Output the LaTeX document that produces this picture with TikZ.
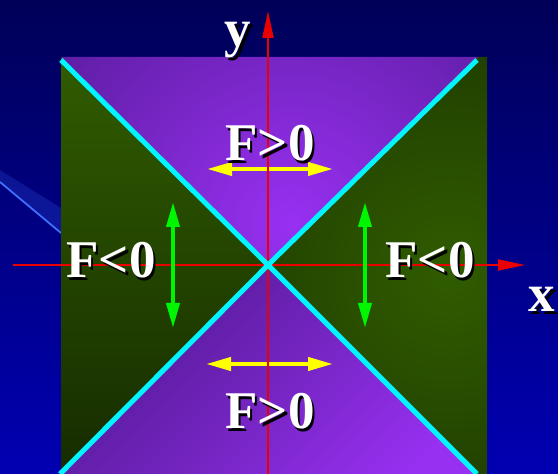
\documentclass[tikz,border=0pt]{standalone}
\usepackage{fontspec}
\setmainfont{Liberation Serif}
\usetikzlibrary{arrows.meta}
\definecolor{bgtop}{RGB}{0,0,88}
\definecolor{bgbot}{RGB}{0,0,178}
\definecolor{gl}{RGB}{48,92,0}
\definecolor{gd}{RGB}{22,44,0}
\definecolor{pl}{RGB}{152,48,242}
\definecolor{pd}{RGB}{76,24,138}
\definecolor{cyanl}{RGB}{0,245,255}
\definecolor{axred}{RGB}{235,0,0}
\definecolor{yel}{RGB}{255,255,0}
\definecolor{grn}{RGB}{0,245,0}
\definecolor{swoosh}{RGB}{64,110,255}
\tikzset{
  axisarrow/.style={draw=axred, line width=2pt, -{Triangle[length=27pt,width=11pt]}},
  farrow/.style={line width=4pt, {Triangle[length=25pt,width=13pt]}-{Triangle[length=25pt,width=13pt]}},
  diag/.style={draw=cyanl, line width=5pt},
  lbl/.style={text=white, font=\fontsize{53}{60}\selectfont\bfseries, inner sep=0pt, anchor=base},
  shd/.style={lbl, text=black},
}
\begin{document}
\begin{tikzpicture}[x=1pt,y=1pt]
\useasboundingbox (0,0) rectangle (558,474);
\shade[top color=bgtop, bottom color=bgbot] (0,0) rectangle (558,474);
% decorative swoosh
\fill[swoosh, opacity=0.2] (0,304) -- (61,266) -- (61,241) -- (0,292) -- cycle;
\draw[swoosh, line width=1.8pt] (0,292) -- (61,241);

\coordinate (O) at (268,209);
\coordinate (SqTL) at (61,417);
\coordinate (SqTR) at (487,417);
\coordinate (SqBL) at (61,0);
\coordinate (SqBR) at (487,0);
\coordinate (cTL) at (61,414);
\coordinate (cTR) at (477,414);
\coordinate (cBL) at (60,0);
\coordinate (cBR) at (477,0);

% left green
\begin{scope}
  \clip (SqTL) -- (O) -- (SqBL) -- cycle;
  \shade[top color=gl, bottom color=gd] (61,0) rectangle (268,417);
\end{scope}
% right green
\begin{scope}
  \clip (478,417) -- (SqTR) -- (SqBR) -- (cBR) -- (O) -- cycle;
  \shade[inner color=gl, outer color=gd] (450,200) circle (380);
\end{scope}
% top purple
\begin{scope}
  \clip (SqTL) -- (478,417) -- (O) -- cycle;
  \shade[inner color=pl, outer color=pd] (290,250) circle (380);
\end{scope}
% bottom purple
\begin{scope}
  \clip (cBL) -- (cBR) -- (O) -- cycle;
  \shade[top color=pd, bottom color=pl, shading angle=45] (40,-20) rectangle (500,230);
\end{scope}

% yellow arrows
\coordinate (yt1) at (207,305);
\coordinate (yt2) at (333,305);
\coordinate (yb1) at (206,110);
\coordinate (yb2) at (333,110);
\draw[farrow, draw=yel, fill=yel] (yt1) -- (yt2);
\draw[farrow, draw=yel, fill=yel] (yb1) -- (yb2);

% axes
\coordinate (xs) at (13,209);
\coordinate (xe) at (525,209);
\coordinate (ys) at (268,0);
\coordinate (ye) at (268,463);
\draw[axisarrow, fill=axred] (xs) -- (xe);
\draw[axisarrow, fill=axred] (ys) -- (ye);

% diagonals
\draw[diag] (cTL) -- (O) -- (cBR);
\draw[diag] (cTR) -- (O) -- (cBL);

% green arrows
\coordinate (gl1) at (173,272);
\coordinate (gl2) at (173,146);
\coordinate (gr1) at (365,272);
\coordinate (gr2) at (365,146);
\draw[farrow, draw=grn, fill=grn] (gl1) -- (gl2);
\draw[farrow, draw=grn, fill=grn] (gr1) -- (gr2);

% labels
\node[shd] (ftops) at (272.5,310.5) {F>0};
\node[lbl] (ftop) at (270,313) {F>0};
\node[shd] (fbots) at (272.5,42.5) {F>0};
\node[lbl] (fbot) at (270,45) {F>0};
\node[shd] (flefts) at (113.5,193.5) {F<0};
\node[lbl] (fleft) at (111,196) {F<0};
\node[shd] (frights) at (432.5,193.5) {F<0};
\node[lbl] (fright) at (430,196) {F<0};
\node[shd] (ylabs) at (240.5,424.5) {y};
\node[lbl] (ylab) at (238,427) {y};
\node[shd] (xlabs) at (544.5,159.5) {x};
\node[lbl] (xlab) at (542,162) {x};
\end{tikzpicture}
\end{document}
